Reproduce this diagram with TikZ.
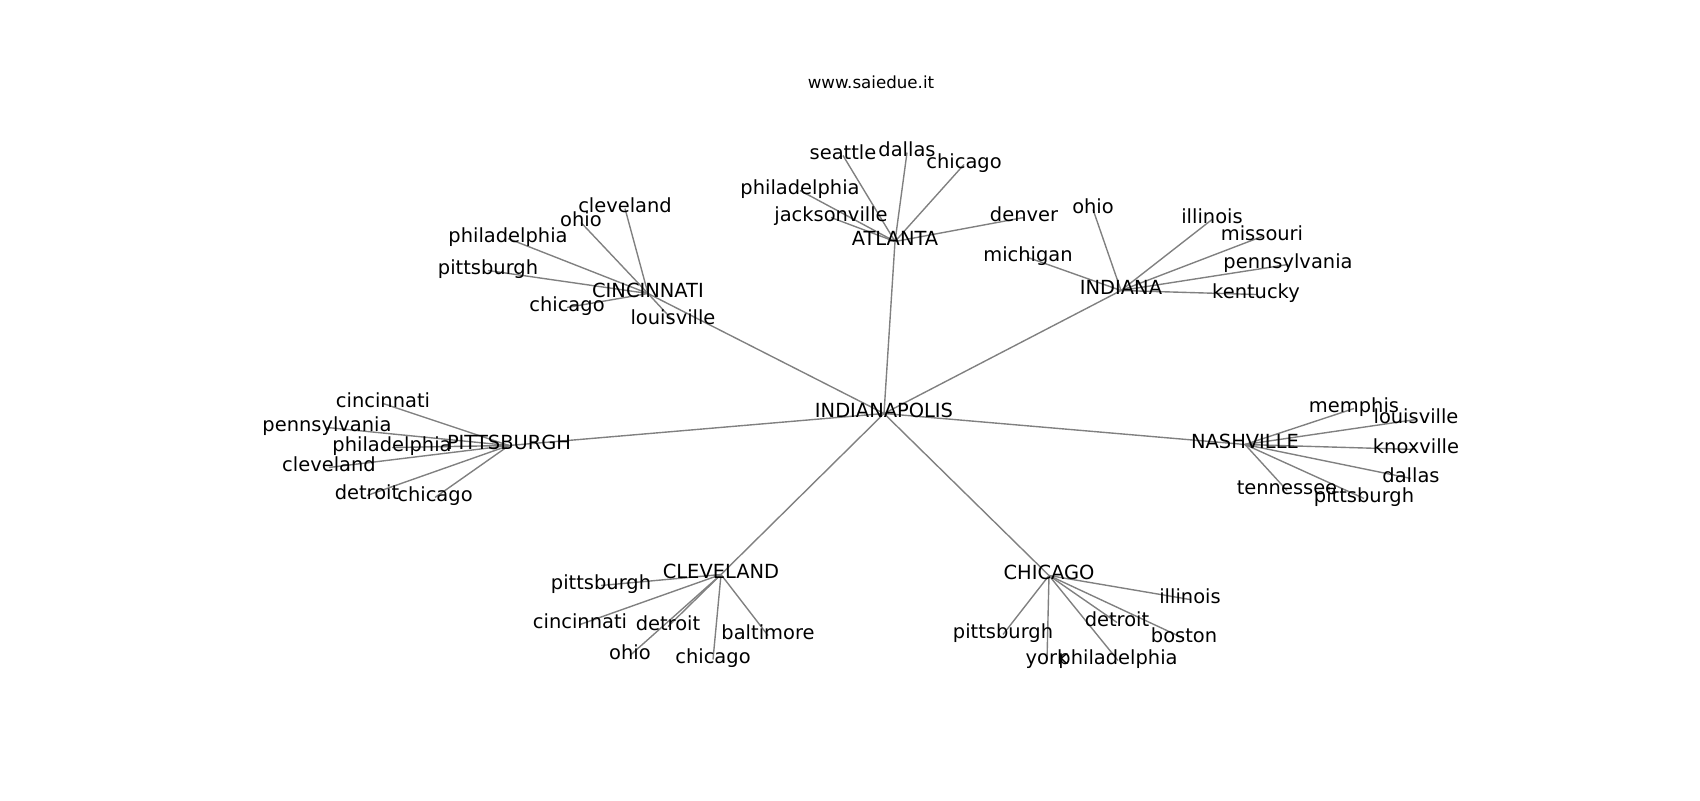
\documentclass[tikz,border=0pt]{standalone}
\usepackage{fontspec}
\setmainfont{DejaVu Sans}
\usetikzlibrary{backgrounds}

\tikzset{
  city/.style={inner sep=0pt, text height=0.76em, text depth=0.208em, font=\fontsize{14}{16}\selectfont},
  title/.style={inner sep=0pt, text height=0.76em, text depth=0.208em, font=\fontsize{12}{14}\selectfont},
  link/.style={draw=gray, line width=1pt}
}

\begin{document}
\begin{tikzpicture}[x=0.72pt, y=-0.72pt]
		\useasboundingbox (0,-2.5) rectangle (1700,797.5);

		% Draw title
		\node[title] (site) at (871,82) {www.saiedue.it};

		% Draw hubs
		\node[city] (indy) at (884,411) {INDIANAPOLIS};
		\node[city] (atl) at (895,239) {ATLANTA};
		\node[city] (cin) at (648,291) {CINCINNATI};
		\node[city] (ind) at (1121,288) {INDIANA};
		\node[city] (pit) at (509,443) {PITTSBURGH};
		\node[city] (nas) at (1245,442) {NASHVILLE};
		\node[city] (cle) at (721,572) {CLEVELAND};
		\node[city] (chi) at (1049,573) {CHICAGO};

		% Draw leaves of ATLANTA
		\node[city] (atl-seattle) at (843,153) {seattle};
		\node[city] (atl-dallas) at (907,150) {dallas};
		\node[city] (atl-chicago) at (964,162) {chicago};
		\node[city] (atl-philadelphia) at (800,188) {philadelphia};
		\node[city] (atl-jacksonville) at (831,215) {jacksonville};
		\node[city] (atl-denver) at (1024,215) {denver};

		% Draw leaves of CINCINNATI
		\node[city] (cin-cleveland) at (625,206) {cleveland};
		\node[city] (cin-ohio) at (581,220) {ohio};
		\node[city] (cin-philadelphia) at (508,236) {philadelphia};
		\node[city] (cin-pittsburgh) at (488,268) {pittsburgh};
		\node[city] (cin-chicago) at (567,305) {chicago};
		\node[city] (cin-louisville) at (673,318) {louisville};

		% Draw leaves of INDIANA
		\node[city] (ind-ohio) at (1093,207) {ohio};
		\node[city] (ind-illinois) at (1212,217) {illinois};
		\node[city] (ind-missouri) at (1262,234) {missouri};
		\node[city] (ind-pennsylvania) at (1288,262) {pennsylvania};
		\node[city] (ind-kentucky) at (1256,292) {kentucky};
		\node[city] (ind-michigan) at (1028,255) {michigan};

		% Draw leaves of PITTSBURGH
		\node[city] (pit-cincinnati) at (383,401) {cincinnati};
		\node[city] (pit-pennsylvania) at (327,425) {pennsylvania};
		\node[city] (pit-philadelphia) at (392,445) {philadelphia};
		\node[city] (pit-cleveland) at (329,465) {cleveland};
		\node[city] (pit-detroit) at (367,493) {detroit};
		\node[city] (pit-chicago) at (435,495) {chicago};

		% Draw leaves of NASHVILLE
		\node[city] (nas-memphis) at (1354,406) {memphis};
		\node[city] (nas-louisville) at (1416,417) {louisville};
		\node[city] (nas-knoxville) at (1416,447) {knoxville};
		\node[city] (nas-dallas) at (1411,476) {dallas};
		\node[city] (nas-tennessee) at (1287,488) {tennessee};
		\node[city] (nas-pittsburgh) at (1364,496) {pittsburgh};

		% Draw leaves of CLEVELAND
		\node[city] (cle-pittsburgh) at (601,583) {pittsburgh};
		\node[city] (cle-cincinnati) at (580,622) {cincinnati};
		\node[city] (cle-detroit) at (668,624) {detroit};
		\node[city] (cle-baltimore) at (768,633) {baltimore};
		\node[city] (cle-ohio) at (630,653) {ohio};
		\node[city] (cle-chicago) at (713,657) {chicago};

		% Draw leaves of CHICAGO
		\node[city] (chi-illinois) at (1190,597) {illinois};
		\node[city] (chi-detroit) at (1117,620) {detroit};
		\node[city] (chi-pittsburgh) at (1003,632) {pittsburgh};
		\node[city] (chi-boston) at (1184,636) {boston};
		\node[city] (chi-york) at (1047,658) {york};
		\node[city] (chi-philadelphia) at (1118,658) {philadelphia};

		% Draw edges
		\begin{scope}[on background layer]
			\foreach \hub in {atl,cin,ind,pit,nas,cle,chi}
				\draw[link] (indy.center) -- (\hub.center);
			\foreach \leaf in {seattle,dallas,chicago,philadelphia,jacksonville,denver}
				\draw[link] (atl.center) -- (atl-\leaf.center);
			\foreach \leaf in {cleveland,ohio,philadelphia,pittsburgh,chicago,louisville}
				\draw[link] (cin.center) -- (cin-\leaf.center);
			\foreach \leaf in {ohio,illinois,missouri,pennsylvania,kentucky,michigan}
				\draw[link] (ind.center) -- (ind-\leaf.center);
			\foreach \leaf in {cincinnati,pennsylvania,philadelphia,cleveland,detroit,chicago}
				\draw[link] (pit.center) -- (pit-\leaf.center);
			\foreach \leaf in {memphis,louisville,knoxville,dallas,tennessee,pittsburgh}
				\draw[link] (nas.center) -- (nas-\leaf.center);
			\foreach \leaf in {pittsburgh,cincinnati,detroit,baltimore,ohio,chicago}
				\draw[link] (cle.center) -- (cle-\leaf.center);
			\foreach \leaf in {illinois,detroit,boston,pittsburgh,york,philadelphia}
				\draw[link] (chi.center) -- (chi-\leaf.center);
		\end{scope}
	\end{tikzpicture}
\end{document}
